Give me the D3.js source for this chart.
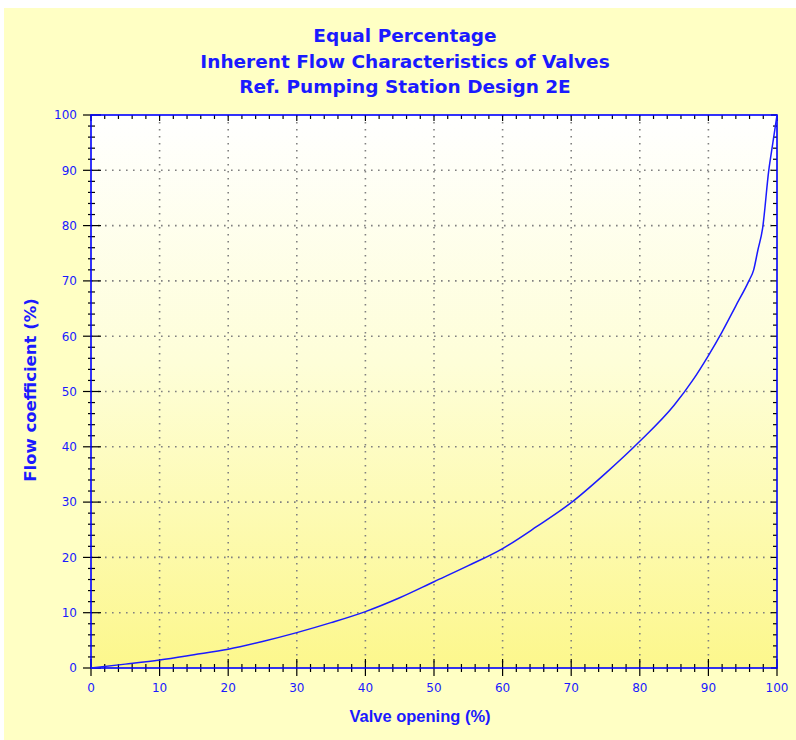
<!DOCTYPE html>
<html><head><meta charset="utf-8">
<script src="https://cdn.jsdelivr.net/npm/d3@7"></script>
<style>html,body{margin:0;padding:0;background:#fff;}svg{display:block;}</style>
</head><body>
<script>
const titleLines = ["Equal Percentage", "Inherent Flow Characteristics of Valves", "Ref. Pumping Station Design 2E"];
const xLabel = "Valve opening (%)";
const yLabel = "Flow coefficient (%)";
const valveOpening = [0, 5, 10, 15, 20, 25, 30, 35, 40, 45, 50, 55, 60, 65, 70, 75, 80, 85, 87.7, 90, 92, 94, 95.9, 96.6, 97.2, 97.9, 98.8, 99.4, 100];
const flowCoeff    = [0, 0.7, 1.45, 2.4, 3.4, 4.8, 6.4, 8.2, 10.2, 12.7, 15.6, 18.5, 21.6, 25.6, 29.9, 35.2, 41.0, 47.5, 52, 56.5, 60.8, 65.5, 70, 72, 75.5, 79.5, 90, 95, 100];
const majorTicks = [0, 10, 20, 30, 40, 50, 60, 70, 80, 90, 100];
const minorTicks = d3.range(0, 101, 2).filter(v => v % 10 !== 0);

const W = 796, H = 740;
const svg = d3.select("body").append("svg").attr("width", W).attr("height", H);
const defs = svg.append("defs");
const grad = defs.append("linearGradient").attr("id", "pg").attr("x1", 0).attr("y1", 0).attr("x2", 0).attr("y2", 1);
grad.append("stop").attr("offset", "0%").attr("stop-color", "#ffffff");
grad.append("stop").attr("offset", "45%").attr("stop-color", "#fefed8");
grad.append("stop").attr("offset", "100%").attr("stop-color", "#fcf78c");

svg.append("rect").attr("x", 4).attr("y", 8).attr("width", W - 4).attr("height", H - 8).attr("fill", "#ffffc4");

const L = 91, R = 777, T = 115, B = 668;
const x = d3.scaleLinear().domain([0, 100]).range([L, R]);
const y = d3.scaleLinear().domain([0, 100]).range([B, T]);

svg.append("rect").attr("x", L).attr("y", T).attr("width", R - L).attr("height", B - T).attr("fill", "url(#pg)");

// grid
const grid = svg.append("g").attr("stroke", "#808080").attr("stroke-width", 1.6).attr("stroke-dasharray", "1.6,5.4");
grid.selectAll(".gx").data(majorTicks.slice(1, -1)).join("line")
  .attr("x1", d => x(d)).attr("x2", d => x(d)).attr("y1", T).attr("y2", B);
grid.selectAll(".gy").data(majorTicks.slice(1, -1)).join("line")
  .attr("y1", d => y(d)).attr("y2", d => y(d)).attr("x1", L).attr("x2", R);

// ticks
const tk = svg.append("g").attr("stroke", "#000").attr("stroke-width", 1.2);
tk.selectAll(".lM").data(majorTicks).join("line").attr("x1", L - 8).attr("x2", L + 10).attr("y1", d => y(d)).attr("y2", d => y(d));
tk.selectAll(".lm").data(minorTicks).join("line").attr("x1", L - 3).attr("x2", L + 4).attr("y1", d => y(d)).attr("y2", d => y(d));
tk.selectAll(".bM").data(majorTicks).join("line").attr("y1", B - 9).attr("y2", B + 8).attr("x1", d => x(d)).attr("x2", d => x(d));
tk.selectAll(".bm").data(minorTicks).join("line").attr("y1", B - 4).attr("y2", B + 4).attr("x1", d => x(d)).attr("x2", d => x(d));
tk.selectAll(".tM").data(majorTicks).join("line").attr("y1", T).attr("y2", T + 6).attr("x1", d => x(d)).attr("x2", d => x(d));
tk.selectAll(".tm").data(minorTicks).join("line").attr("y1", T).attr("y2", T + 4).attr("x1", d => x(d)).attr("x2", d => x(d));
tk.selectAll(".rM").data(majorTicks).join("line").attr("x1", R - 6).attr("x2", R).attr("y1", d => y(d)).attr("y2", d => y(d));
tk.selectAll(".rm").data(minorTicks).join("line").attr("x1", R - 4).attr("x2", R).attr("y1", d => y(d)).attr("y2", d => y(d));

// frame
svg.append("rect").attr("x", L).attr("y", T).attr("width", R - L).attr("height", B - T)
  .attr("fill", "none").attr("stroke", "#0000ff").attr("stroke-width", 1.6);

// curve
const pts = valveOpening.map((v, i) => [v, flowCoeff[i]]);
const line = d3.line().x(d => x(d[0])).y(d => y(d[1])).curve(d3.curveMonotoneX);
svg.append("path").datum(pts).attr("d", line).attr("fill", "none").attr("stroke", "#1a1aff").attr("stroke-width", 1.5);

// tick labels
const font = "DejaVu Sans, Verdana, sans-serif";
svg.append("g").selectAll("text").data(majorTicks).join("text")
  .attr("x", L - 14).attr("y", d => y(d)).attr("dy", "0.36em").attr("text-anchor", "end")
  .attr("font-family", font).attr("font-size", 12).attr("fill", "#1a1aff").text(d => d);
svg.append("g").selectAll("text").data(majorTicks).join("text")
  .attr("x", d => x(d)).attr("y", B + 24).attr("text-anchor", "middle")
  .attr("font-family", font).attr("font-size", 12).attr("fill", "#1a1aff").text(d => d);

// titles
svg.append("g").selectAll("text").data(titleLines).join("text")
  .attr("x", 405).attr("y", (d, i) => 42 + i * 25.5).attr("text-anchor", "middle")
  .attr("font-family", font).attr("font-weight", "bold").attr("font-size", 18.5).attr("fill", "#1a1aff").text(d => d);

svg.append("text").attr("x", 420).attr("y", 722).attr("text-anchor", "middle")
  .attr("font-family", "Liberation Sans, Arial, sans-serif").attr("font-weight", "bold").attr("font-size", 16.5).attr("fill", "#1a1aff").text(xLabel);
svg.append("text").attr("transform", `translate(36,390) rotate(-90)`).attr("text-anchor", "middle")
  .attr("font-family", font).attr("font-weight", "bold").attr("font-size", 16.5).attr("fill", "#1a1aff").text(yLabel);
</script>
</body></html>
